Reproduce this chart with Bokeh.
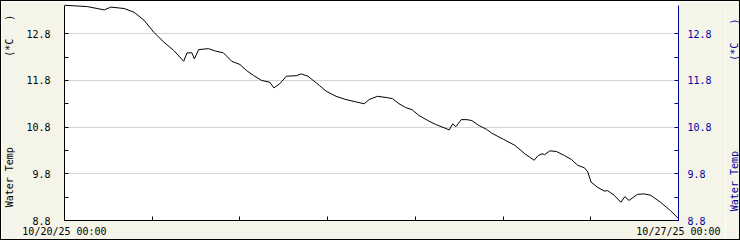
import math
from bokeh.plotting import figure
from bokeh.layouts import row
from bokeh.models import Range1d, LinearAxis, FixedTicker, Label
from bokeh.embed import file_html
from bokeh.resources import INLINE

# ---- data ----
hours = [0, 6.33, 10.87, 12.69, 16.31, 19.03, 21.75, 24.46, 27.18, 29.90,
         32.62, 33.52, 34.88, 35.53, 36.70, 39.42, 41.24, 43.49, 45.75, 48.03,
         49.83, 51.65, 53.91, 56.19, 57.28, 58.91, 60.70, 63.42, 64.78, 66.60,
         69.78, 71.58, 74.29, 77.01, 79.73, 82.01, 83.37, 85.63, 88.35, 89.71,
         91.53, 93.32, 95.14, 96.97, 99.68, 101.48, 104.66, 105.28, 106.21, 107.11,
         108.55, 110.10, 111.45, 113.27, 115.53, 116.89, 120.07, 123.22, 125.94, 128.50,
         129.59, 130.67, 131.38, 132.74, 134.56, 136.82, 138.64, 140.46, 142.25, 143.18,
         144.08, 145.90, 147.69, 148.62, 150.41, 152.23, 153.32, 154.49, 156.77, 158.56,
         160.38, 163.10, 165.82, 168.0]
water_temp = [13.41, 13.38, 13.31, 13.37, 13.34, 13.26, 13.09, 12.83, 12.62, 12.44,
              12.21, 12.39, 12.39, 12.26, 12.46, 12.48, 12.43, 12.39, 12.21, 12.14,
              12.01, 11.91, 11.80, 11.76, 11.64, 11.73, 11.89, 11.90, 11.94, 11.89,
              11.69, 11.57, 11.46, 11.39, 11.34, 11.30, 11.39, 11.46, 11.43, 11.41,
              11.30, 11.22, 11.17, 11.05, 10.93, 10.86, 10.76, 10.74, 10.87, 10.81,
              10.96, 10.96, 10.94, 10.84, 10.75, 10.67, 10.54, 10.41, 10.23, 10.09,
              10.19, 10.23, 10.21, 10.29, 10.28, 10.19, 10.11, 9.98, 9.93, 9.84,
              9.62, 9.51, 9.43, 9.44, 9.34, 9.19, 9.31, 9.23, 9.36, 9.37,
              9.34, 9.19, 9.01, 8.84]

x_ticks = [0, 24, 48, 72, 96, 120, 144, 168]
x_tick_labels = ["10/20/25 00:00", "", "", "", "", "", "", "10/27/25 00:00"]
y_ticks = [8.8, 9.8, 10.8, 11.8, 12.8]
y_minor_ticks = [9.3, 10.3, 11.3, 12.3]
y_tick_labels = ["8.8", "9.8", "10.8", "11.8", "12.8"]
x_min, x_max = 0, 168
y_min, y_max = 8.8, 13.41        # extent of the drawn y axes
y_view_max = 13.49               # white plot area reaches slightly above the axes
axis_title = "Water Temp" + "\u00a0" * 15 + "(*C\u00a0\u00a0\u00a0)"

FONT = "DejaVu Sans Mono"
FS = "10px"
BG = "#F5F4E9"
BLUE = "#0000A0"

p = figure(width=724, height=238, output_backend="svg", toolbar_location=None,
           x_range=Range1d(x_min, x_max), y_range=Range1d(y_min, y_view_max),
           min_border_left=59, min_border_right=47, min_border_top=0, min_border_bottom=19)
p.background_fill_color = "white"
p.border_fill_color = BG
p.outline_line_color = None

p.line(hours, water_temp, line_color="black", line_width=1)

# x axis
xa = p.xaxis[0]
xa.ticker = FixedTicker(ticks=x_ticks, minor_ticks=[])
xa.major_label_overrides = {t: l for t, l in zip(x_ticks, x_tick_labels)}
xa.major_tick_in = 4
xa.major_tick_out = 0
xa.minor_tick_line_color = None
xa.axis_line_color = "black"
xa.major_tick_line_color = "black"
xa.major_label_text_font = FONT
xa.major_label_text_font_size = FS
xa.major_label_text_color = "black"
xa.major_label_standoff = 5

# left y axis
ya = p.yaxis[0]
ya.bounds = (y_min, y_max)
ya.ticker = FixedTicker(ticks=y_ticks, minor_ticks=y_minor_ticks)
ya.major_label_overrides = {t: l for t, l in zip(y_ticks, y_tick_labels)}
ya.major_tick_in = 4
ya.major_tick_out = 0
ya.minor_tick_in = 4
ya.minor_tick_out = 0
ya.axis_line_color = "black"
ya.major_tick_line_color = "black"
ya.minor_tick_line_color = "black"
ya.major_label_text_font = FONT
ya.major_label_text_font_size = FS
ya.major_label_text_color = "black"
ya.major_label_standoff = 14
ya.axis_label = axis_title
ya.axis_label_text_font = FONT
ya.axis_label_text_font_size = FS
ya.axis_label_text_font_style = "normal"
ya.axis_label_text_color = "black"
ya.axis_label_standoff = 8

# right y axis
p.extra_y_ranges = {"right": Range1d(y_min, y_view_max)}
ra = LinearAxis(y_range_name="right")
ra.bounds = (y_min, y_max)
ra.ticker = FixedTicker(ticks=y_ticks, minor_ticks=y_minor_ticks)
ra.major_label_overrides = {t: l for t, l in zip(y_ticks, y_tick_labels)}
ra.major_tick_in = 4
ra.major_tick_out = 0
ra.minor_tick_in = 4
ra.minor_tick_out = 0
ra.axis_line_color = BLUE
ra.major_tick_line_color = BLUE
ra.minor_tick_line_color = BLUE
ra.major_label_text_font = FONT
ra.major_label_text_font_size = FS
ra.major_label_text_color = BLUE
ra.major_label_standoff = 9
p.add_layout(ra, "right")

p.xgrid.grid_line_color = None
p.ygrid.ticker = FixedTicker(ticks=y_ticks)
p.ygrid.grid_line_color = "#D4D4D4"

# narrow strip on the right carrying the right-hand axis title (reads bottom-to-top)
p2 = figure(width=14, height=238, output_backend="svg", toolbar_location=None,
            x_range=Range1d(0, 1), y_range=Range1d(y_min, y_view_max),
            x_axis_type=None, y_axis_type=None,
            min_border_left=0, min_border_right=0, min_border_top=0, min_border_bottom=19)
p2.background_fill_color = BG
p2.border_fill_color = BG
p2.outline_line_color = None
p2.xgrid.visible = False
p2.ygrid.visible = False
p2.add_layout(Label(x=0.5, y=(y_min + y_max) / 2, x_units="data", y_units="data",
                    x_offset=2, y_offset=-2,
                    text=axis_title, angle=math.pi / 2,
                    text_align="center", text_baseline="middle",
                    text_font=FONT, text_font_size=FS, text_color=BLUE))

layout = row(p, p2, spacing=0)
layout.styles = {"border": "1px solid #000000"}

open("out.html", "w").write(file_html(layout, INLINE))
